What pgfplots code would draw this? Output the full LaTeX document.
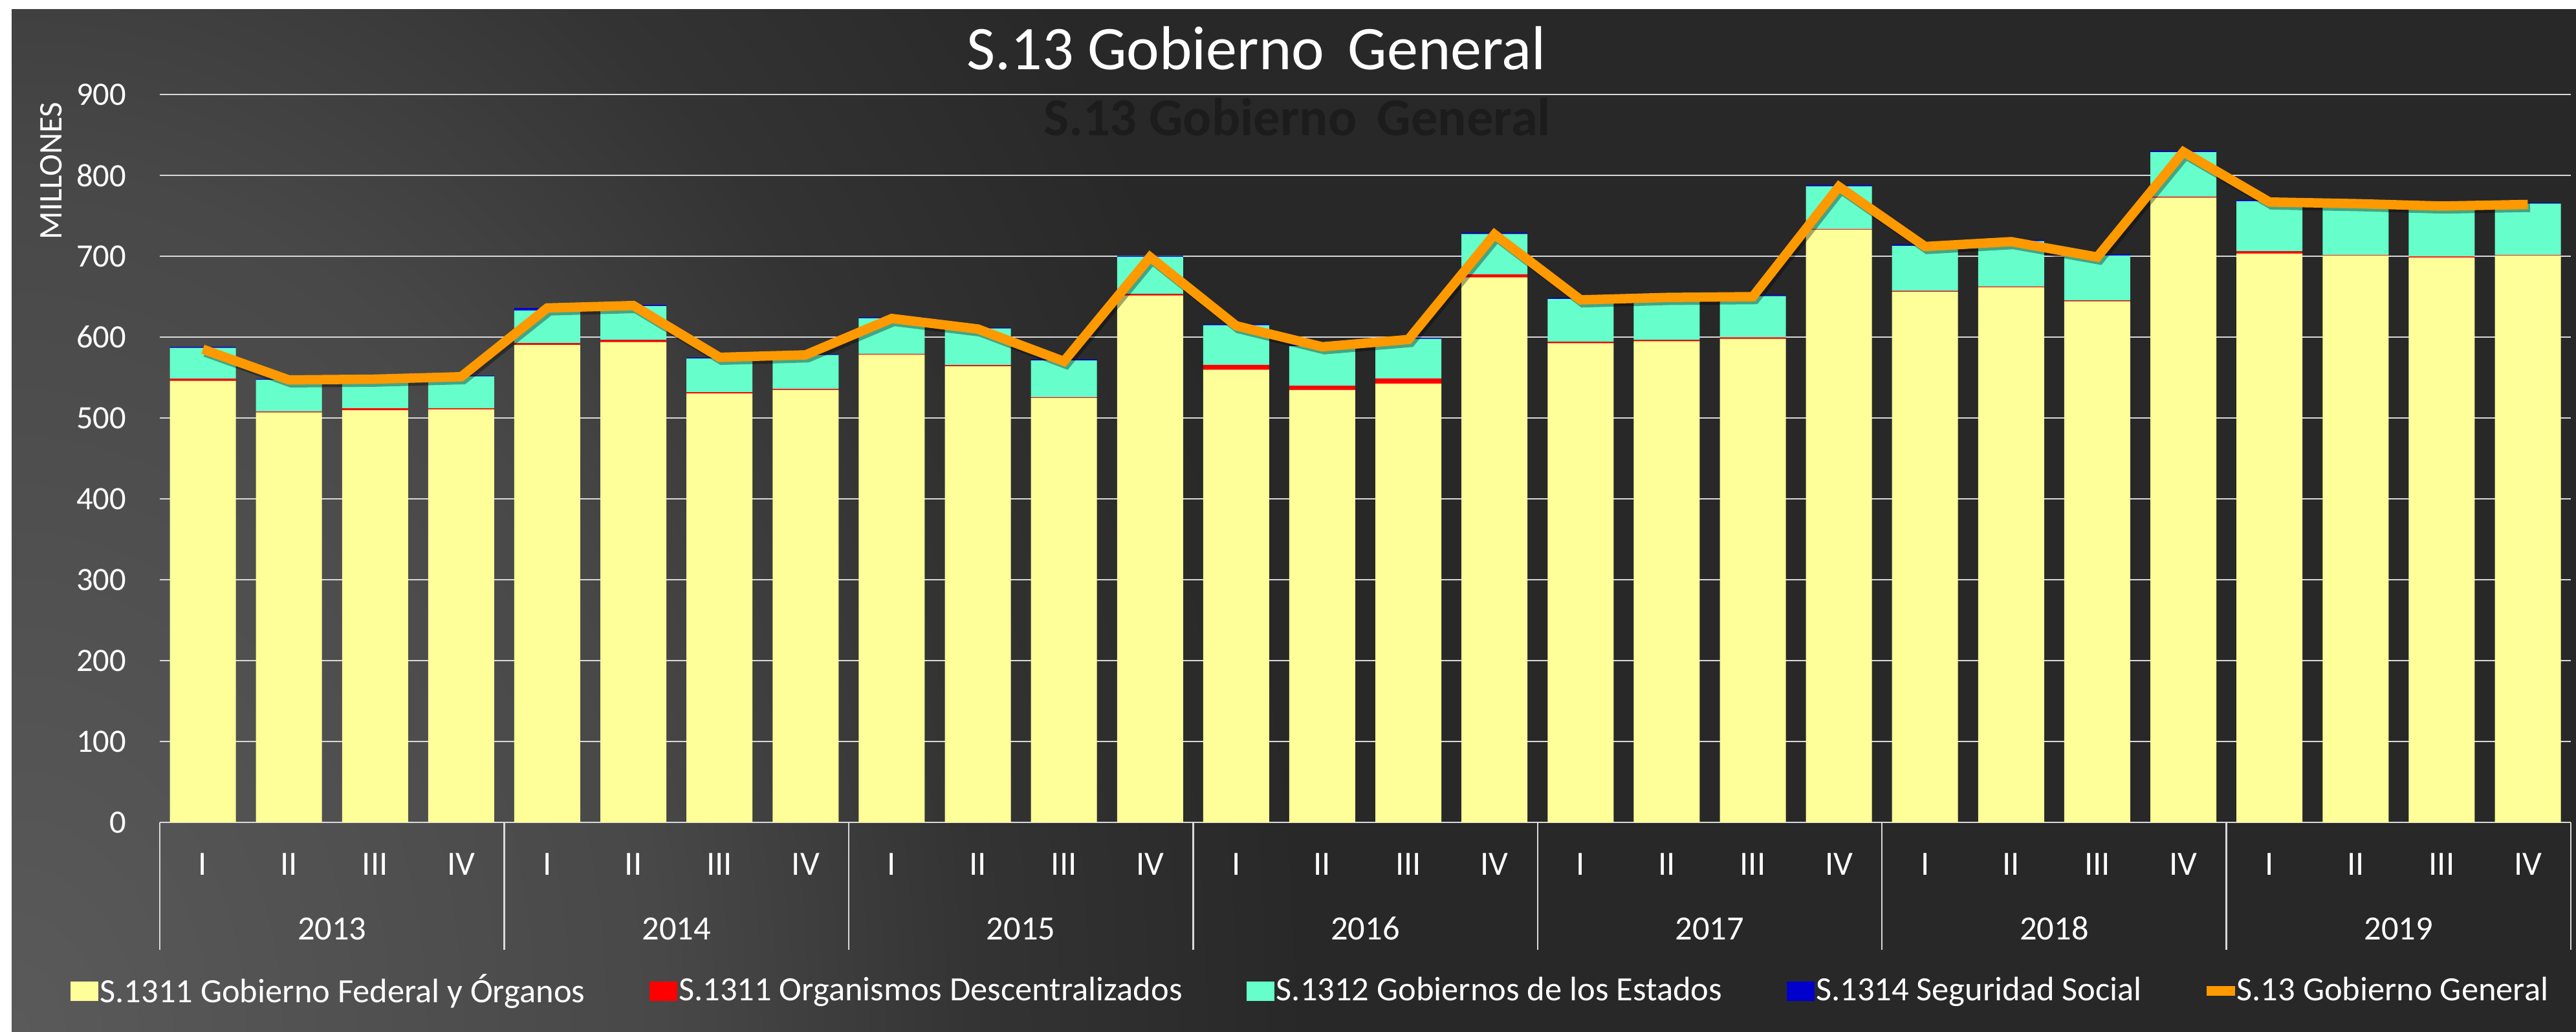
\documentclass[border=0pt]{standalone}
\usepackage{fontspec}
\setmainfont{Carlito}
\usepackage{pgfplots}
\pgfplotsset{compat=1.18}
\definecolor{cYel}{HTML}{FFFF99}
\definecolor{cRed}{HTML}{FF0000}
\definecolor{cAqua}{HTML}{66FFCC}
\definecolor{cBlue}{HTML}{0000CC}
\definecolor{cOra}{HTML}{FF9900}
\definecolor{cGrid}{HTML}{D9D9D9}
\definecolor{bgA}{HTML}{5A5A5A}
\definecolor{bgB}{HTML}{484848}
\definecolor{bgC}{HTML}{333333}
\definecolor{bgD}{HTML}{282828}
\definecolor{ghost}{HTML}{1C1C1C}
\pgfdeclareradialshading{bgrad}{\pgfpointorigin}{color(0bp)=(bgA); color(200bp)=(bgB); color(300bp)=(bgC); color(400bp)=(bgD); color(1200bp)=(bgD)}
\begin{document}
\begin{tikzpicture}
\useasboundingbox (0,0) rectangle (796.4pt,318.8pt);
\fill[white] (0,0) rectangle (796.4pt,318.8pt);
\begin{scope}
\clip (3.6pt,0) rectangle (796.4pt,315.8pt);
\fill[bgD] (3.6pt,0) rectangle (796.4pt,315.8pt);
\begin{pgfscope}
\pgftransformshift{\pgfpoint{3.6pt}{0pt}}
\pgftransformyscale{1.32}
\pgflowlevelsynccm
\pgfuseshading{bgrad}
\end{pgfscope}
\end{scope}
\node[anchor=base, ghost, font=\fontsize{16.5}{19}\selectfont\bfseries, inner sep=0pt] at (401pt,276.8pt) {S.13 Gobierno\hspace{0.38em}General};
\node[anchor=base, white, font=\fontsize{19.2}{22}\selectfont, inner sep=0pt] at (388.4pt,297.2pt) {S.13 Gobierno\hspace{0.38em}General};
\node[rotate=90, anchor=center, white, font=\fontsize{10.2}{12}\selectfont, inner sep=0pt] at (15.8pt,266pt) {MILLONES};

\begin{axis}[
  name=main,
  at={(49.4pt,64.6pt)}, anchor=south west,
  scale only axis, width=745.4pt, height=225pt,
  xmin=-0.5, xmax=27.5, ymin=0, ymax=900,
  ybar stacked, bar width=20.4pt,
  clip=false,
  separate axis lines,
  axis x line*=bottom, axis y line*=left,
  x axis line style={cGrid, line width=0.5pt, -},
  y axis line style={draw=none},
  ytick={0,100,...,900},
  ymajorgrids, grid style={cGrid, line width=0.5pt},
  major tick length=0pt,
  xtick={0,...,27},
  xticklabels={I,II,III,IV,I,II,III,IV,I,II,III,IV,I,II,III,IV,I,II,III,IV,I,II,III,IV,I,II,III,IV},
  tick label style={white, font=\fontsize{10.1}{12}\selectfont},
  /pgf/number format/assume math mode=true,
  yticklabel style={anchor=east, inner sep=0pt, xshift=-10.2pt},
  xticklabel style={anchor=base, inner sep=0pt, yshift=-16.2pt, font=\fontsize{10.5}{12}\selectfont},
  legend columns=5,
  legend cell align=left,
  legend style={draw=none, fill=none, inner sep=0pt, text=white,
    font=\fontsize{10.5}{12}\selectfont,
    at={(axis description cs:-0.0373,-0.2316)}, anchor=west,
    nodes={inner sep=0.5pt},
    /tikz/every even column/.append style={column sep=19.4pt}},
]
\addplot[fill=cYel, draw=none, legend image code/.code={\fill[cYel] (0pt,-3pt) rectangle (8.6pt,3pt);}] coordinates {
(0,546) (1,507) (2,509.7) (3,510.8) (4,590.4) (5,594) (6,530.4) (7,534.7)
(8,578.3) (9,564) (10,524.7) (11,651.5) (12,559.7) (13,534.7) (14,542.6) (15,674)
(16,592.6) (17,595) (18,597.9) (19,732.9) (20,656.1) (21,661.5) (22,644.3) (23,772.5)
(24,703.3) (25,700.8) (26,698.3) (27,700.8)};
\addlegendentry{S.1311 Gobierno Federal y Órganos}
\addplot[fill=cRed, draw=none, legend image code/.code={\fill[cRed] (0pt,-3pt) rectangle (8.6pt,3pt);}] coordinates {
(0,2.6) (1,1.1) (2,2.5) (3,1.4) (4,2.2) (5,2.5) (6,1.5) (7,1.4)
(8,1.1) (9,1.4) (10,1.1) (11,1.8) (12,6.1) (13,5.3) (14,6.4) (15,3.6)
(16,1.8) (17,1.5) (18,1.8) (19,0.7) (20,1.1) (21,1.1) (22,1.1) (23,1.1)
(24,2.8) (25,0.7) (26,1.4) (27,0.7)};
\addlegendentry{S.1311 Organismos Descentralizados}
\addplot[fill=cAqua, draw=none, legend image code/.code={\fill[cAqua] (0pt,-3pt) rectangle (8.6pt,3pt);}] coordinates {
(0,38.2) (1,39.2) (2,34.8) (3,39.3) (4,40.3) (5,41.8) (6,41.7) (7,41.8)
(8,44) (9,45.4) (10,45.3) (11,46) (12,48.9) (13,49) (14,48.9) (15,49.9)
(16,52.8) (17,53) (18,51.1) (19,52.9) (20,55.7) (21,56) (22,55.4) (23,55)
(24,61.8) (25,63.5) (26,63.5) (27,63.5)};
\addlegendentry{S.1312 Gobiernos de los Estados}
\addplot[fill=cBlue, draw=none, legend image code/.code={\fill[cBlue] (0pt,-3pt) rectangle (8.6pt,3pt);}] coordinates {
(0,1.1) (1,1.1) (2,1) (3,1.1) (4,3.1) (5,1.4) (6,1.1) (7,1.1)
(8,1.1) (9,1) (10,1.5) (11,1.1) (12,1.4) (13,1.4) (14,1.5) (15,1.5)
(16,1.4) (17,1.4) (18,1.4) (19,1.4) (20,1.4) (21,1.4) (22,1.4) (23,1.4)
(24,1.8) (25,1) (26,1) (27,1.1)};
\addlegendentry{S.1314 Seguridad Social}
\addlegendimage{legend image code/.code={\fill[cOra] (0pt,-1.35pt) rectangle (8.5pt,1.35pt);}}
\addlegendentry{S.13 Gobierno General}
\pgfplotsinvokeforeach{-0.5,3.5,7.5,11.5,15.5,19.5,23.5,27.5}{\draw[cGrid, line width=0.5pt] (axis cs:#1,0) -- ([yshift=-39.4pt]axis cs:#1,0);}
\node[anchor=base, white, font=\fontsize{10.5}{12}\selectfont, inner sep=0pt] at ([yshift=-36.2pt]axis cs:1.5,0) {2013};
\node[anchor=base, white, font=\fontsize{10.5}{12}\selectfont, inner sep=0pt] at ([yshift=-36.2pt]axis cs:5.5,0) {2014};
\node[anchor=base, white, font=\fontsize{10.5}{12}\selectfont, inner sep=0pt] at ([yshift=-36.2pt]axis cs:9.5,0) {2015};
\node[anchor=base, white, font=\fontsize{10.5}{12}\selectfont, inner sep=0pt] at ([yshift=-36.2pt]axis cs:13.5,0) {2016};
\node[anchor=base, white, font=\fontsize{10.5}{12}\selectfont, inner sep=0pt] at ([yshift=-36.2pt]axis cs:17.5,0) {2017};
\node[anchor=base, white, font=\fontsize{10.5}{12}\selectfont, inner sep=0pt] at ([yshift=-36.2pt]axis cs:21.5,0) {2018};
\node[anchor=base, white, font=\fontsize{10.5}{12}\selectfont, inner sep=0pt] at ([yshift=-36.2pt]axis cs:25.5,0) {2019};
\end{axis}

\begin{axis}[
  at={(49.4pt,64.6pt)}, anchor=south west,
  scale only axis, width=745.4pt, height=225pt,
  xmin=-0.5, xmax=27.5, ymin=0, ymax=900,
  hide axis, clip=false,
]
\addplot[black, opacity=0.35, line width=2.9pt, line join=miter, mark=none, transform canvas={xshift=0.7pt, yshift=-0.9pt}] coordinates {
(0,585) (1,547) (2,548) (3,551) (4,636) (5,639) (6,575) (7,578)
(8,623) (9,610) (10,570) (11,699) (12,614) (13,588) (14,597) (15,727)
(16,646) (17,649) (18,650) (19,786) (20,712) (21,718) (22,699) (23,829)
(24,767) (25,765) (26,762) (27,764)};
\addplot[cOra, line width=2.9pt, line join=miter, mark=none] coordinates {
(0,585) (1,547) (2,548) (3,551) (4,636) (5,639) (6,575) (7,578)
(8,623) (9,610) (10,570) (11,699) (12,614) (13,588) (14,597) (15,727)
(16,646) (17,649) (18,650) (19,786) (20,712) (21,718) (22,699) (23,829)
(24,767) (25,765) (26,762) (27,764)};
\end{axis}
\end{tikzpicture}
\end{document}
